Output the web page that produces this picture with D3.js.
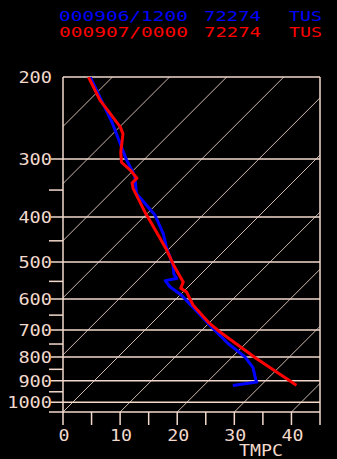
<!DOCTYPE html>
<html>
<head>
<meta charset="utf-8">
<script src="https://cdn.jsdelivr.net/npm/d3@7"></script>
<style>
body { margin: 0; background: #000; }
</style>
</head>
<body>
<div id="chart"></div>
<script>
const width = 337
const height = 459
const plot = {left: 63, right: 320, top: 77, bottom: 412}

// pressure levels (mb)
const pMajor = [200, 300, 400, 500, 600, 700, 800, 900, 1000]
const pMinor = [350, 450, 550, 650, 750, 850, 950, 1050]

// temperature axis (C)
const tTicks = [0, 5, 10, 15, 20, 25, 30, 35, 40, 45]
const tLabels = [0, 10, 20, 30, 40]
const isotherms = [-50, -40, -30, -20, -10, 0, 10, 20, 30, 40]

// sounding 000906/1200 (blue)
const blueP = [200, 250, 301, 320, 327, 356, 396, 434, 467, 507, 531, 542, 548, 565, 589, 683, 748, 799, 843, 897, 905, 921]
const blueT = [-53.9, -42.2, -33.1, -29.8, -28.7, -25.4, -18.4, -13.7, -10.5, -6.5, -4.7, -3.5, -5.1, -3.2, 0.3, 10.5, 16.9, 22.2, 25.5, 28.2, 28.7, 25.1]

// sounding 000907/0000 (red)
const redP = [200, 224, 256, 265, 290, 305, 317, 330, 338, 347, 390, 413, 471, 507, 552, 569, 580, 619, 672, 706, 806, 920]
const redT = [-54.2, -48.2, -39.9, -38.2, -35.4, -33.5, -30.6, -28.0, -28.0, -26.9, -20.7, -17.5, -10.2, -6.4, -1.7, -1.05, 0.65, 4.1, 9.6, 13.4, 24.5, 36.2]

const headerBlue = ['000906/1200', '72274', 'TUS']
const headerRed = ['000907/0000', '72274', 'TUS']

const lineCol = '#f2d9cc'
const gridCol = '#d0b9b0'
const font = "'DejaVu Sans Mono', monospace"

const x = d3.scaleLinear().domain([0, 45]).range([plot.left, plot.right])
const y = d3.scaleLog().domain([200, 1050]).range([plot.top, plot.bottom])

// skew: isotherms lean 45 degrees
const skewX = (t, p) => x(t) + (plot.bottom - y(p))

const svg = d3.select('#chart')
  .append('svg')
  .attr('width', width)
  .attr('height', height)
  .style('background', '#000')

svg.append('clipPath')
  .attr('id', 'clip')
  .append('rect')
  .attr('x', plot.left)
  .attr('y', plot.top)
  .attr('width', plot.right - plot.left)
  .attr('height', plot.bottom - plot.top)

const skewLine = d3.line()
  .x(d => skewX(d.t, d.p))
  .y(d => y(d.p))

// isotherms
svg.append('g')
  .attr('clip-path', 'url(#clip)')
  .selectAll('path')
  .data(isotherms)
  .enter()
  .append('path')
  .attr('d', t => skewLine([{t: t, p: 1050}, {t: t, p: 200}]))
  .style('fill', 'none')
  .style('stroke', gridCol)
  .style('stroke-width', 1)

// isobars
svg.append('g')
  .selectAll('line')
  .data(pMajor)
  .enter()
  .append('line')
  .attr('x1', p => p === 200 ? plot.left : plot.left - 12)
  .attr('x2', plot.right)
  .attr('y1', p => y(p))
  .attr('y2', p => y(p))
  .style('stroke', lineCol)
  .style('stroke-width', 1.5)

svg.append('g')
  .selectAll('line')
  .data(pMinor)
  .enter()
  .append('line')
  .attr('x1', plot.left - 14)
  .attr('x2', p => p === 1050 ? plot.right : plot.left)
  .attr('y1', p => y(p))
  .attr('y2', p => y(p))
  .style('stroke', lineCol)
  .style('stroke-width', 1.5)

// frame left side
svg.append('line')
  .attr('x1', plot.left).attr('x2', plot.left)
  .attr('y1', plot.top).attr('y2', plot.bottom)
  .style('stroke', lineCol).style('stroke-width', 1.5)

// temperature ticks
svg.append('g')
  .selectAll('line')
  .data(tTicks)
  .enter()
  .append('line')
  .attr('x1', t => x(t))
  .attr('x2', t => x(t))
  .attr('y1', t => t === 45 ? plot.top : plot.bottom)
  .attr('y2', plot.bottom + 13)
  .style('stroke', lineCol)
  .style('stroke-width', 1.5)

// pressure labels
svg.append('g')
  .selectAll('text')
  .data(pMajor)
  .enter()
  .append('text')
  .attr('x', plot.left - 11)
  .attr('y', p => y(p) + 6)
  .attr('text-anchor', 'end')
  .attr('textLength', p => String(p).length * 11.2)
  .attr('lengthAdjust', 'spacingAndGlyphs')
  .style('font-family', font)
  .style('font-size', '16.5px')
  .style('fill', lineCol)
  .text(p => p)

// temperature labels
svg.append('g')
  .selectAll('text')
  .data(tLabels)
  .enter()
  .append('text')
  .attr('x', t => x(t) + 1)
  .attr('y', plot.bottom + 29)
  .attr('text-anchor', 'middle')
  .attr('textLength', t => String(t).length * 11)
  .attr('lengthAdjust', 'spacingAndGlyphs')
  .style('font-family', font)
  .style('font-size', '16.5px')
  .style('fill', lineCol)
  .text(t => t)

svg.append('text')
  .attr('x', 261)
  .attr('y', 456)
  .attr('text-anchor', 'middle')
  .attr('textLength', 44)
  .attr('lengthAdjust', 'spacingAndGlyphs')
  .style('font-family', font)
  .style('font-size', '16px')
  .style('fill', lineCol)
  .text('TMPC')

// soundings
const blueData = blueP.map((p, i) => ({p: p, t: blueT[i]}))
const redData = redP.map((p, i) => ({p: p, t: redT[i]}))

const curves = svg.append('g').attr('clip-path', 'url(#clip)')

curves.append('path')
  .data([blueData])
  .attr('d', skewLine)
  .style('fill', 'none')
  .style('stroke', '#0000ff')
  .style('stroke-width', 3)
  .style('stroke-linejoin', 'round')

curves.append('path')
  .data([redData])
  .attr('d', skewLine)
  .style('fill', 'none')
  .style('stroke', '#ff0000')
  .style('stroke-width', 3)
  .style('stroke-linejoin', 'round')

// header
const headerX = [59, 204, 289]
const headerW = [129, 57, 33]

function header(parts, yPos, col) {
  svg.append('g')
    .selectAll('text')
    .data(parts)
    .enter()
    .append('text')
    .attr('x', (d, i) => headerX[i])
    .attr('y', yPos)
    .attr('textLength', (d, i) => headerW[i])
    .attr('lengthAdjust', 'spacingAndGlyphs')
    .style('font-family', font)
    .style('font-size', '14px')
    .style('fill', col)
    .text(d => d)
}

header(headerBlue, 20.5, '#0000ff')
header(headerRed, 37, '#ff0000')
</script>
</body>
</html>
